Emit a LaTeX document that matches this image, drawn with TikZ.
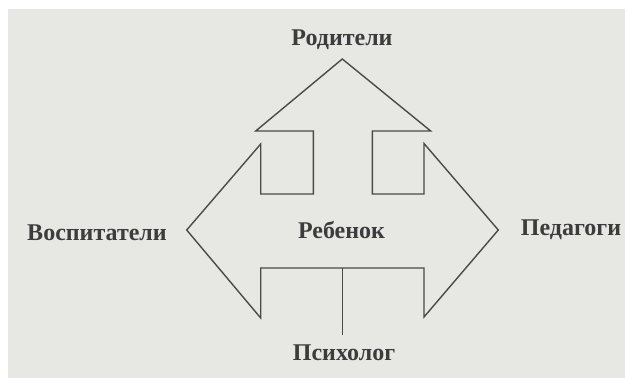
\documentclass[tikz,border=0pt]{standalone}
\usepackage{fontspec}
\setmainfont{Liberation Serif}
\definecolor{paper}{HTML}{E7E7E4}
\definecolor{ink}{HTML}{4A4A4A}
\definecolor{txt}{HTML}{3C3C3C}
\begin{document}
\begin{tikzpicture}[x=1pt,y=-1pt,
  lbl/.style={text=txt,font=\fontsize{24}{26}\selectfont\bfseries,inner sep=0pt,anchor=base},
  outline/.style={draw=ink,line width=1.4pt,line join=miter}]
\useasboundingbox (0,0) rectangle (625,378);
\fill[paper] (8,9) rectangle (625,378);
% four-way arrow outline
\draw[outline] (342.3,59) -- (430.7,131) -- (372.3,131) -- (372.3,194) -- (424,194) -- (424,143.5)
  -- (498.3,230) -- (424,317) -- (424,268) -- (260.7,268) -- (260.7,318) -- (186.7,230)
  -- (260.7,144) -- (260.7,194) -- (313.3,194) -- (313.3,131) -- (255.7,131) -- cycle;
\coordinate (stem) at (342.3,268);
\node[lbl] (rod) at (342,45) {Родители};
\node[lbl] (vos) at (97,240.5) {Воспитатели};
\node[lbl] (ped) at (571,235.5) {Педагоги};
\node[lbl] (reb) at (341.5,238) {Ребенок};
\node[lbl] (psy) at (344,360) {Психолог};
\draw[ink,line width=1.4pt] (stem) -- ([yshift=9pt]psy.north -| stem);
\end{tikzpicture}
\end{document}
